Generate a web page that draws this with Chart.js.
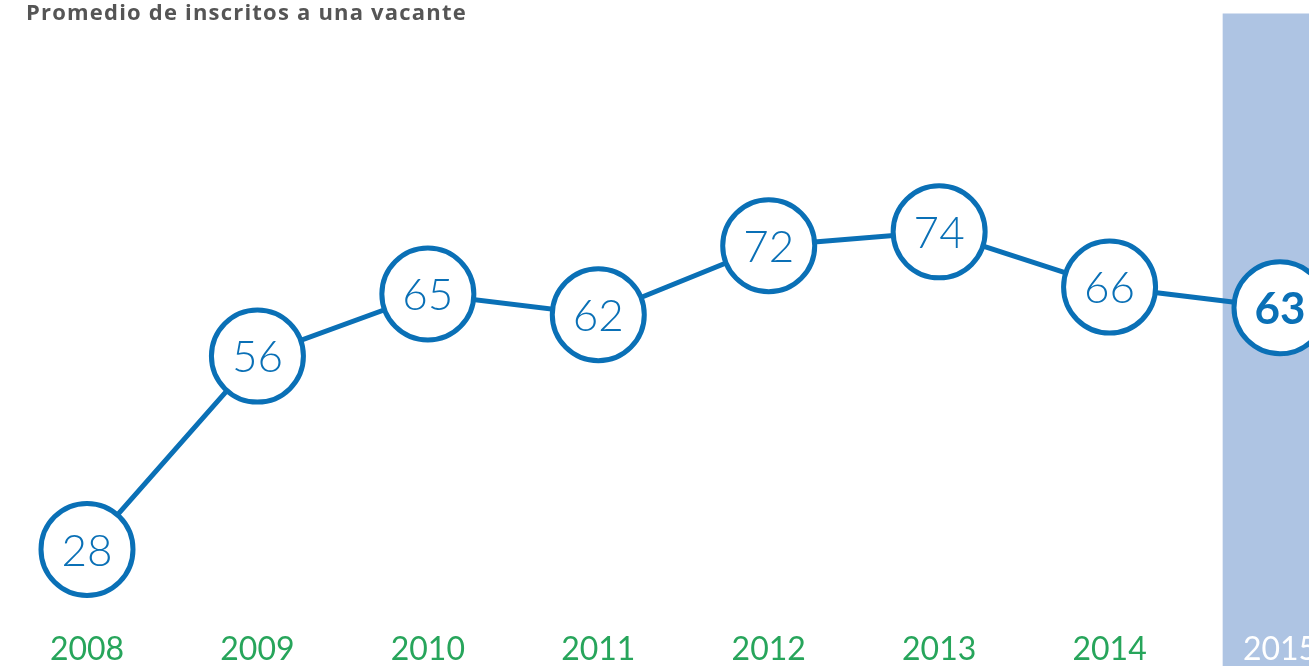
<!DOCTYPE html>
<html>
<head>
<meta charset="utf-8">
<script src="https://cdn.jsdelivr.net/npm/chart.js@4.4.0/dist/chart.umd.min.js"></script>
<style>
  html, body { margin: 0; padding: 0; background: #ffffff; overflow: hidden; }
  #wrap { position: relative; width: 1309px; height: 666px; }
  #title { position: absolute; left: 26px; top: -3px; font-family: "Open Sans", sans-serif; font-weight: 700; font-size: 22px; letter-spacing: 1.2px; color: #555555; line-height: 28px; white-space: nowrap; z-index: 2; }
  canvas { position: absolute; left: 0; top: 0; }
</style>
</head>
<body>
<div id="wrap">
  <div id="title">Promedio de inscritos a una vacante</div>
  <canvas id="c" width="1309" height="666"></canvas>
</div>
<script>
const years = ["2008", "2009", "2010", "2011", "2012", "2013", "2014", "2015"];
const inscritos = [28, 56, 65, 62, 72, 74, 66, 63];
const highlightYear = "2015";
const bandRange = [-20, 105.6];

const hlIndex = years.indexOf(highlightYear);
const bandData = years.map((y, i) => i === hlIndex ? bandRange : null);

const BLUE = "#0a70b6";
const GREEN = "#27a55b";
const BAND = "#aec4e3";

const labelPlugin = {
  id: "circleLabels",
  afterDatasetsDraw(chart) {
    const meta = chart.getDatasetMeta(0);
    const ctx = chart.ctx;
    ctx.save();
    ctx.textAlign = "center";
    ctx.textBaseline = "middle";
    meta.data.forEach((pt, i) => {
      const bold = i === hlIndex;
      ctx.font = (bold ? "700 " : "300 ") + "44px Lato, sans-serif";
      ctx.fillStyle = BLUE;
      ctx.fillText(String(inscritos[i]), pt.x, pt.y + 2);
    });
    ctx.restore();
  }
};

new Chart(document.getElementById("c"), {
  data: {
    labels: years,
    datasets: [
      {
        type: "line",
        data: inscritos,
        borderColor: BLUE,
        borderWidth: 5,
        backgroundColor: "#ffffff",
        pointRadius: 46,
        pointBorderWidth: 5,
        pointBackgroundColor: "#ffffff",
        pointBorderColor: BLUE,
        pointHoverRadius: 46,
        tension: 0,
        clip: false,
        order: 0
      },
      {
        type: "bar",
        data: bandData,
        backgroundColor: BAND,
        borderWidth: 0,
        barThickness: 114,
        clip: false,
        order: 1
      }
    ]
  },
  options: {
    responsive: false,
    animation: false,
    events: [],
    layout: { autoPadding: false, padding: { left: 87, right: 29, top: 11, bottom: -29 } },
    plugins: { legend: { display: false }, tooltip: { enabled: false }, title: { display: false } },
    scales: {
      x: {
        type: "category",
        offset: false,
        z: 1,
        grid: { display: false, offset: false, drawTicks: false },
        border: { display: false },
        ticks: {
          z: 1,
          padding: 26,
          font: { family: "Lato, sans-serif", size: 32, lineHeight: 1.2 },
          color: (ctx) => ctx.index === hlIndex ? "#ffffff" : GREEN,
          maxRotation: 0,
          autoSkip: false
        },
        afterFit: (scale) => { scale.paddingLeft = 0; scale.paddingRight = 0; }
      },
      y: {
        display: false,
        min: 20,
        max: 106
      }
    }
  },
  plugins: [labelPlugin]
});
</script>
</body>
</html>
